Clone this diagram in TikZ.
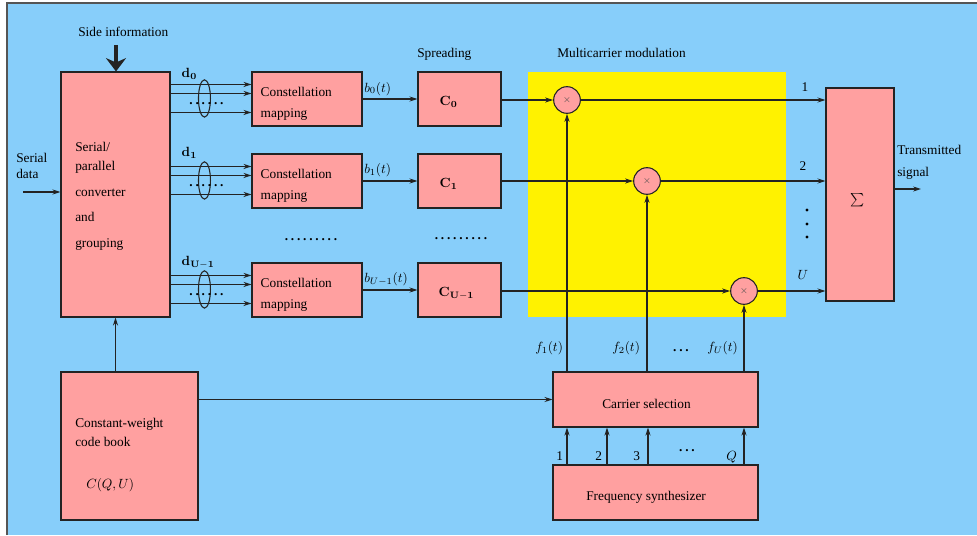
\documentclass[tikz,border=0pt]{standalone}
\usepackage[no-math]{fontspec}
\setmainfont{Liberation Serif}
\usetikzlibrary{arrows.meta,fit,calc}
\definecolor{bgblue}{RGB}{135,206,250}
\definecolor{boxpink}{RGB}{255,160,160}
\definecolor{linegray}{RGB}{35,35,35}
\definecolor{framegray}{RGB}{85,85,85}
\newcommand{\dotrow}[1]{\textbf{\foreach \i in {1,...,#1}{.\hspace{2.1pt}}\unskip}}
\begin{document}
\begin{tikzpicture}[x=0.75pt,y=-0.75pt,
  every node/.style={font=\fontsize{10}{12}\selectfont},
  blk/.style={draw=linegray, fill=boxpink, line width=0.8pt, inner sep=0pt},
  mult/.style={circle, draw=linegray, fill=boxpink, line width=0.8pt,
               minimum size=20pt, inner sep=0pt},
  ln/.style={draw=linegray, line width=0.8pt},
  arr/.style={ln, -{Stealth[length=6pt,width=3.8pt]}},
  lbl/.style={inner sep=0pt, anchor=base west},
  lblc/.style={inner sep=0pt, anchor=base},
  dotsn/.style={inner sep=0pt}]

% canvas
\useasboundingbox (0,0) rectangle (977,535);
\fill[white] (0,0) rectangle (977,535);
\fill[bgblue] (7,3) rectangle (977,535);
\draw[framegray, line width=1.1pt] (7,535) -- (7,3) -- (977,3);

% multicarrier modulation area
\fill[yellow] (528,72) rectangle (786,317);

% blocks
\node[blk, fit={(61,72)(170,317)}] (sp) {};
\node[blk, fit={(252,72)(362,126)}] (cm0) {};
\node[blk, fit={(252,154)(362,208)}] (cm1) {};
\node[blk, fit={(252,263)(362,317)}] (cm2) {};
\node[blk, fit={(418,72)(501,126)}] (sc0) {};
\node[blk, fit={(418,154)(501,208)}] (sc1) {};
\node[blk, fit={(418,263)(501,317)}] (sc2) {};
\node[blk, fit={(826,88)(894,301)}] (sum) {};
\node[blk, fit={(553,372)(758,427)}] (cs) {};
\node[blk, fit={(553,465)(758,520)}] (fs) {};
\node[blk, fit={(61,372)(198,520)}] (cw) {};

\node[mult] (m0) at (567,100) {};
\node[mult] (m1) at (647,181) {};
\node[mult] (m2) at (744,291) {};
\foreach \k in {0,1,2}
  \node[dotsn, text=black!70, font=\scriptsize] (x\k) at (m\k) {$\times$};

% block texts
\node[lbl] (t1) at (75,151) {Serial/};
\node[lbl] (t2) at (75,170) {parallel};
\node[lbl] (t3) at (75,196) {converter};
\node[lbl] (t4) at (75,221) {and};
\node[lbl] (t5) at (75,247) {grouping};

\foreach \k in {0,1,2} {
  \node[lbl] (cma\k) at ($(cm\k.north west)+(9,25)$) {Constellation};
  \node[lbl] (cmb\k) at ($(cm\k.north west)+(9,46)$) {mapping};
}
\node[lbl] (c0) at ($(sc0.north west)+(22,34)$) {$\mathbf{C_0}$};
\node[lbl] (c1) at ($(sc1.north west)+(22,34)$) {$\mathbf{C_1}$};
\node[lbl] (c2) at ($(sc2.north west)+(21,34)$) {$\mathbf{C_{U-1}}$};

\node[dotsn] (sg) at (858,200) {$\sum$};
\node[lbl] (cst) at (602,408) {Carrier selection};
\node[lbl] (fst) at (586,500) {Frequency synthesizer};
\node[lbl] (cwa) at (75,427) {Constant-weight};
\node[lbl] (cwb) at (75,446) {code book};
\node[lbl] (cwc) at (86,488) {$C(Q,U)$};

% headings
\node[lbl] (side) at (78,37) {Side information};
\node[lbl] (spr) at (417,58) {Spreading};
\node[lbl] (mcm) at (557,58) {Multicarrier modulation};
\node[lbl] (sd1) at (16,162) {Serial};
\node[lbl] (sd2) at (16,178) {data};
\node[lbl] (tx1) at (897,154) {Transmitted};
\node[lbl] (tx2) at (897,176) {signal};

% side information and serial input
\coordinate (sitop) at (116,45);
\draw[linegray, line width=2.4pt, -{Stealth[length=10pt,width=15pt]}] (sitop) -- (sitop |- sp.north);
\coordinate (sdin) at (23,192);
\draw[arr] (sdin) -- (sdin -| sp.west);

% parallel groups into the mapping blocks
\foreach \k/\lab/\dy in {0/{\mathbf{d_0}}/6, 1/{\mathbf{d_1}}/3, 2/{\mathbf{d_{U-1}}}/3} {
  \foreach \o in {13,22,41} {
    \coordinate (in\k-\o) at ($(cm\k.north west)+(0,\o)$);
    \draw[arr] (sp.east |- in\k-\o) -- (in\k-\o);
  }
  \draw[ln] ($(cm\k.north west)+(-47,27)$) ellipse [x radius=4.5pt, y radius=14pt];
  \node[dotsn] (gd\k) at ($(cm\k.north west)+(-45,32)$) {\dotrow{6}};
  \node[lbl] (d\k) at ($(cm\k.north west)+(-70,\dy)$) {$\lab$};
}
\node[dotsn] (vd1) at (311,240) {\dotrow{9}};
\node[dotsn] (vd2) at (461,239) {\dotrow{9}};

% mapping -> spreading
\draw[arr] (cm0.east) -- (sc0.west);
\draw[arr] (cm1.east) -- (sc1.west);
\draw[arr] (cm2.east) -- (sc2.west);
\node[lbl] (b0) at (364,92) {$b_0(t)$};
\node[lbl] (b1) at (364,173) {$b_1(t)$};
\node[lbl] (b2) at (364,282) {$b_{U-1}(t)$};

% spreading -> multipliers -> adder
\draw[arr] (sc0.east |- m0) -- (m0.west);
\draw[arr] (sc1.east |- m1) -- (m1.west);
\draw[arr] (sc2.east |- m2) -- (m2.west);
\draw[arr] (m0.east) -- (m0 -| sum.west);
\draw[arr] (m1.east) -- (m1 -| sum.west);
\draw[arr] (m2.east) -- (m2 -| sum.west);
\node[lblc] (n1) at (805,91) {1};
\node[lblc] (n2) at (803,170) {2};
\node[lblc] (nU) at (803,279) {$U$};
\foreach \yy in {210,224,237}
  \fill[black] (807,\yy) circle [radius=1.3pt];

% adder output
\coordinate (txo) at (921,189);
\draw[arr] (sum.east |- txo) -- (txo);

% carriers to the multipliers
\draw[arr] (m0 |- cs.north) -- (m0.south);
\draw[arr] (m1 |- cs.north) -- (m1.south);
\draw[arr] (m2 |- cs.north) -- (m2.south);
\node[lbl] (f1) at (535,351) {$f_1(t)$};
\node[lbl] (f2) at (612,351) {$f_2(t)$};
\node[lbl] (fU) at (707,351) {$f_U(t)$};
\node[dotsn] (fd) at (681,351) {\dotrow{3}};

% synthesizer -> carrier selection
\foreach \xx/\k in {567/1,607/2,648/3,744/4} {
  \coordinate (q\k) at (\xx,465);
  \draw[arr] (q\k) -- (q\k |- cs.south);
}
\node[lbl] (l1) at (556,460) {1};
\node[lbl] (l2) at (595,460) {2};
\node[lbl] (l3) at (633,460) {3};
\node[lbl] (lQ) at (726,460) {$Q$};
\node[dotsn] (ld) at (687,451) {\dotrow{3}};

% code book connections
\draw[arr] (sp.south |- cw.north) -- (sp.south);
\draw[arr] (cw.east |- cs.west) -- (cs.west);
\end{tikzpicture}
\end{document}
